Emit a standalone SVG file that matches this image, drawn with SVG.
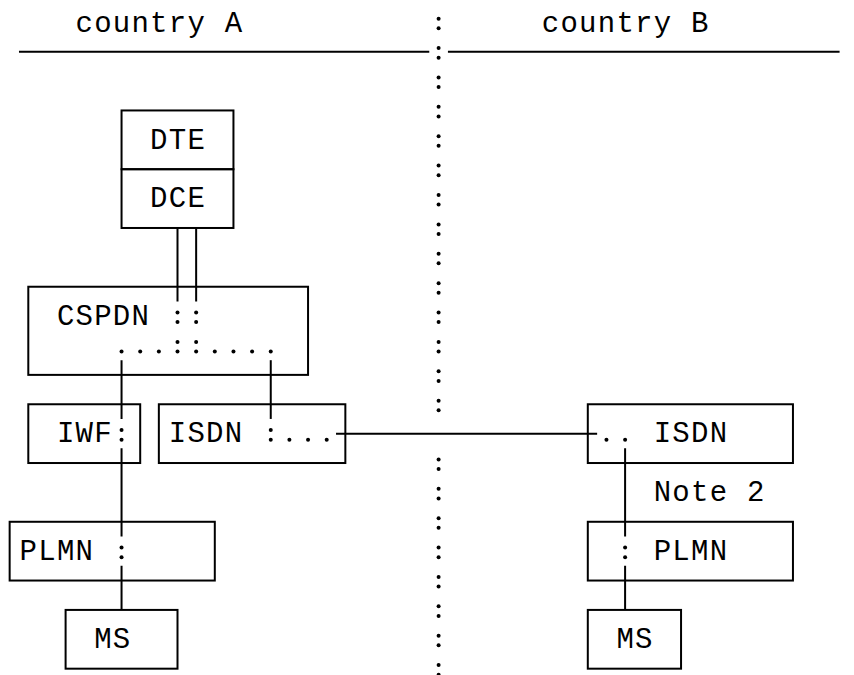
<svg xmlns="http://www.w3.org/2000/svg" xmlns:xlink="http://www.w3.org/1999/xlink" width="854" height="675" viewBox="0 0 854 675">
<style>
.box{fill:none;stroke:#000;stroke-width:2}
.ln{fill:none;stroke:#000;stroke-width:2}
.t{font-family:"Liberation Mono","DejaVu Sans Mono",monospace;font-size:29px;letter-spacing:1.25px;fill:#000}
</style>
<defs>
<circle id="dot" cx="0" cy="6" r="2" fill="#000"/>
<g id="colon"><circle cx="0" cy="-3.6" r="2" fill="#000"/><circle cx="0" cy="6" r="2" fill="#000"/></g>
</defs>
<rect width="854" height="675" fill="#fff"/>
<g id="headers">
<text class="t" x="75.5" y="32">country A</text>
<text class="t" x="541.8" y="32">country B</text>
</g>
<g id="connectors">
<path class="ln" d="M18.98 51.7H429.28M447.93 51.7H839.58"/>
<path class="ln" d="M177.5 227.98V301.43M196.15 227.98V301.43"/>
<path class="ln" d="M121.55 360.19V418.95M121.55 448.33V536.47M121.55 565.85V609.92"/>
<path class="ln" d="M270.75 360.19V418.95"/>
<path class="ln" d="M625.1 448.33V536.47M625.1 565.85V609.92"/>
<path class="ln" d="M336.03 433.64H597.13"/>
<g id="divider">
<use xlink:href="#colon" x="438.6" y="22.32"/>
<use xlink:href="#colon" x="438.6" y="51.7"/>
<use xlink:href="#colon" x="438.6" y="81.08"/>
<use xlink:href="#colon" x="438.6" y="110.46"/>
<use xlink:href="#colon" x="438.6" y="139.84"/>
<use xlink:href="#colon" x="438.6" y="169.22"/>
<use xlink:href="#colon" x="438.6" y="198.6"/>
<use xlink:href="#colon" x="438.6" y="227.98"/>
<use xlink:href="#colon" x="438.6" y="257.36"/>
<use xlink:href="#colon" x="438.6" y="286.74"/>
<use xlink:href="#colon" x="438.6" y="316.12"/>
<use xlink:href="#colon" x="438.6" y="345.5"/>
<use xlink:href="#colon" x="438.6" y="374.88"/>
<use xlink:href="#colon" x="438.6" y="404.26"/>
<use xlink:href="#colon" x="438.6" y="463.02"/>
<use xlink:href="#colon" x="438.6" y="492.4"/>
<use xlink:href="#colon" x="438.6" y="521.78"/>
<use xlink:href="#colon" x="438.6" y="551.16"/>
<use xlink:href="#colon" x="438.6" y="580.54"/>
<use xlink:href="#colon" x="438.6" y="609.92"/>
<use xlink:href="#colon" x="438.6" y="639.3"/>
<use xlink:href="#colon" x="438.6" y="668.68"/>
</g>
<g id="dotted">
<use xlink:href="#colon" x="177.5" y="316.12"/>
<use xlink:href="#colon" x="196.15" y="316.12"/>
<use xlink:href="#colon" x="177.5" y="345.5"/>
<use xlink:href="#colon" x="196.15" y="345.5"/>
<use xlink:href="#dot" x="121.55" y="345.5"/>
<use xlink:href="#dot" x="140.2" y="345.5"/>
<use xlink:href="#dot" x="158.85" y="345.5"/>
<use xlink:href="#dot" x="214.8" y="345.5"/>
<use xlink:href="#dot" x="233.45" y="345.5"/>
<use xlink:href="#dot" x="252.1" y="345.5"/>
<use xlink:href="#dot" x="270.75" y="345.5"/>
<use xlink:href="#colon" x="121.55" y="433.64"/>
<use xlink:href="#colon" x="270.75" y="433.64"/>
<use xlink:href="#dot" x="289.4" y="433.64"/>
<use xlink:href="#dot" x="308.05" y="433.64"/>
<use xlink:href="#dot" x="326.7" y="433.64"/>
<use xlink:href="#dot" x="606.45" y="433.64"/>
<use xlink:href="#dot" x="625.1" y="433.64"/>
<use xlink:href="#colon" x="121.55" y="551.16"/>
<use xlink:href="#colon" x="625.1" y="551.16"/>
</g>
</g>
<g id="DTE"><rect class="box" x="121.55" y="110.46" width="111.9" height="58.76"/><text class="t" x="150.1" y="148.5">DTE</text></g>
<g id="DCE"><rect class="box" x="121.55" y="169.22" width="111.9" height="58.76"/><text class="t" x="150.1" y="207.3">DCE</text></g>
<g id="CSPDN"><rect class="box" x="28.3" y="286.74" width="279.75" height="88.14"/><text class="t" x="56.9" y="324.8">CSPDN</text></g>
<g id="IWF"><rect class="box" x="28.3" y="404.26" width="111.9" height="58.76"/><text class="t" x="56.9" y="442.3">IWF</text></g>
<g id="ISDN_A"><rect class="box" x="158.85" y="404.26" width="186.5" height="58.76"/><text class="t" x="168.8" y="442.3">ISDN</text></g>
<g id="ISDN_B"><rect class="box" x="587.8" y="404.26" width="205.15" height="58.76"/><text class="t" x="653.7" y="442.3">ISDN</text></g>
<g id="note2"><text class="t" x="653.7" y="501.1">Note 2</text></g>
<g id="PLMN_A"><rect class="box" x="9.65" y="521.78" width="205.15" height="58.76"/><text class="t" x="19.6" y="559.9">PLMN</text></g>
<g id="PLMN_B"><rect class="box" x="587.8" y="521.78" width="205.15" height="58.76"/><text class="t" x="653.7" y="559.9">PLMN</text></g>
<g id="MS_A"><rect class="box" x="65.6" y="609.92" width="111.9" height="58.76"/><text class="t" x="94.2" y="648">MS</text></g>
<g id="MS_B"><rect class="box" x="587.8" y="609.92" width="93.25" height="58.76"/><text class="t" x="616.4" y="648">MS</text></g>
</svg>
